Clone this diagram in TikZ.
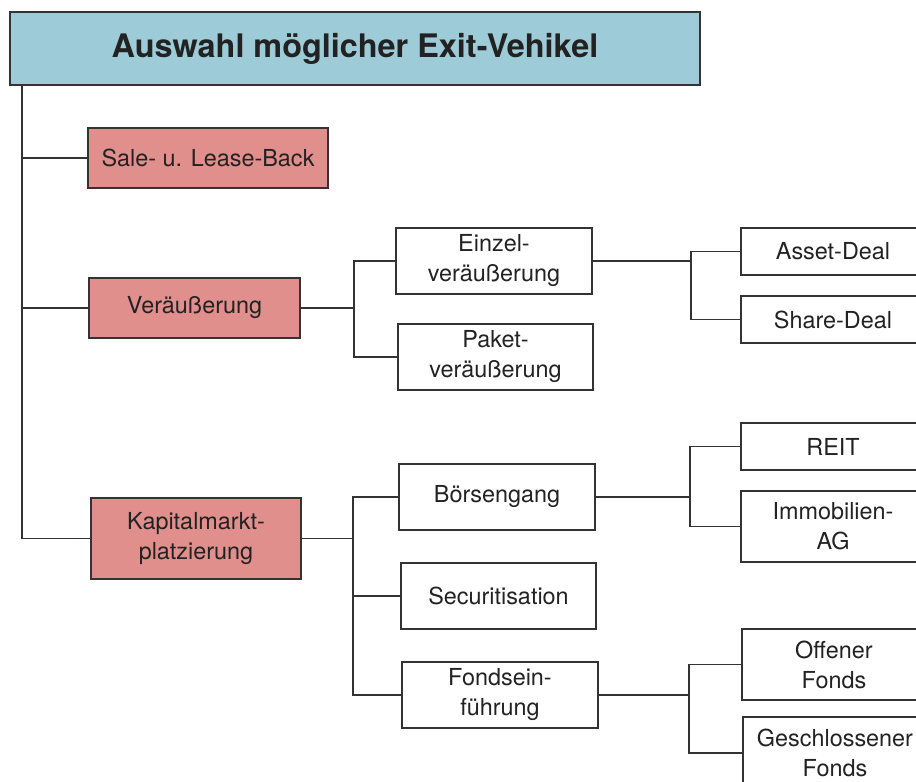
\documentclass[tikz,border=0pt]{standalone}
\usepackage{fontspec}
\setmainfont{TeX Gyre Heros}
\definecolor{headblue}{RGB}{157,204,216}
\definecolor{salmon}{RGB}{224,143,140}
\definecolor{linegray}{RGB}{51,51,51}
\definecolor{textdark}{RGB}{34,34,34}
\begin{document}
\begin{tikzpicture}[x=0.5pt,y=-0.5pt,
  box/.style={draw=linegray, line width=0.8pt, fill=white, inner sep=0pt,
    align=center, text=textdark, font=\fontsize{11.7}{15}\selectfont},
  cat/.style={box, fill=salmon},
  head/.style={box, fill=headblue, line width=0.9pt,
    font=\fontsize{16.2}{19}\selectfont\bfseries},
  conn/.style={draw=linegray, line width=0.75pt}]
\useasboundingbox (0,0) rectangle (916,782);
\clip (0,0) rectangle (916,782);

% header and first-level categories
\node[head, minimum width=345pt, minimum height=36.5pt] (title) at (355,48.5) {Auswahl möglicher Exit-Vehikel};
\node[cat, minimum width=120pt, minimum height=30pt] (sale) at (208,158) {Sale- u. Lease-Back};
\node[cat, minimum width=105.5pt, minimum height=30pt] (verae) at (194.5,308) {Veräußerung};
\node[cat, minimum width=105pt, minimum height=40.5pt] (kap) at (196,538.5) {Kapitalmarkt-\\platzierung};

% second level
\node[box, minimum width=98pt, minimum height=33pt] (einzel) at (494,261) {Einzel-\\veräußerung};
\node[box, minimum width=97.5pt, minimum height=33pt] (paket) at (495.5,357) {Paket-\\veräußerung};
\node[box, minimum width=98pt, minimum height=33pt] (boerse) at (497,497) {Börsengang};
\node[box, minimum width=97.5pt, minimum height=33pt] (secur) at (498.5,596) {Securitisation};
\node[box, minimum width=98pt, minimum height=33pt] (fonds) at (500,695) {Fondsein-\\führung};

% third level
\node[box, minimum width=92pt, minimum height=23.5pt] (asset) at (833,251.5) {Asset-Deal};
\node[box, minimum width=92pt, minimum height=23.5pt] (share) at (833,319.5) {Share-Deal};
\node[box, minimum width=92pt, minimum height=23.5pt] (reit) at (833,446.5) {REIT};
\node[box, minimum width=92pt, minimum height=35.5pt] (immo) at (833,526.5) {Immobilien-\\AG};
\node[box, minimum width=92pt, minimum height=35.5pt] (offen) at (834,664.5) {Offener\\Fonds};
\node[box, minimum width=92pt, minimum height=36pt] (geschl) at (835,753) {Geschlossener\\Fonds};

% junction columns
\coordinate (trunk) at (22,0);
\coordinate (ja) at (354,0);
\coordinate (jb) at (353,0);
\coordinate (jc) at (691,0);
\coordinate (jd) at (690,0);
\coordinate (je) at (689,0);

% trunk from the header
\draw[conn] (title.south -| trunk) -- (kap.west -| trunk) -- (kap.west);
\draw[conn] (sale.west -| trunk) -- (sale.west);
\draw[conn] (verae.west -| trunk) -- (verae.west);

% Veräußerung branch
\draw[conn] (verae.east) -- (verae.east -| ja);
\draw[conn] (einzel.west) -- (einzel.west -| ja) -- (paket.west -| ja) -- (paket.west);
\draw[conn] (einzel.east) -- (einzel.east -| jc);
\draw[conn] (asset.west) -- (asset.west -| jc) -- (share.west -| jc) -- (share.west);

% Kapitalmarkt branch
\draw[conn] (kap.east) -- (kap.east -| jb);
\draw[conn] (boerse.west) -- (boerse.west -| jb) -- (fonds.west -| jb) -- (fonds.west);
\draw[conn] (secur.west) -- (secur.west -| jb);
\draw[conn] (boerse.east) -- (boerse.east -| jd);
\draw[conn] (reit.west) -- (reit.west -| jd) -- (immo.west -| jd) -- (immo.west);
\draw[conn] (fonds.east) -- (fonds.east -| je);
\draw[conn] (offen.west) -- (offen.west -| je) -- (geschl.west -| je) -- (geschl.west);
\end{tikzpicture}
\end{document}
